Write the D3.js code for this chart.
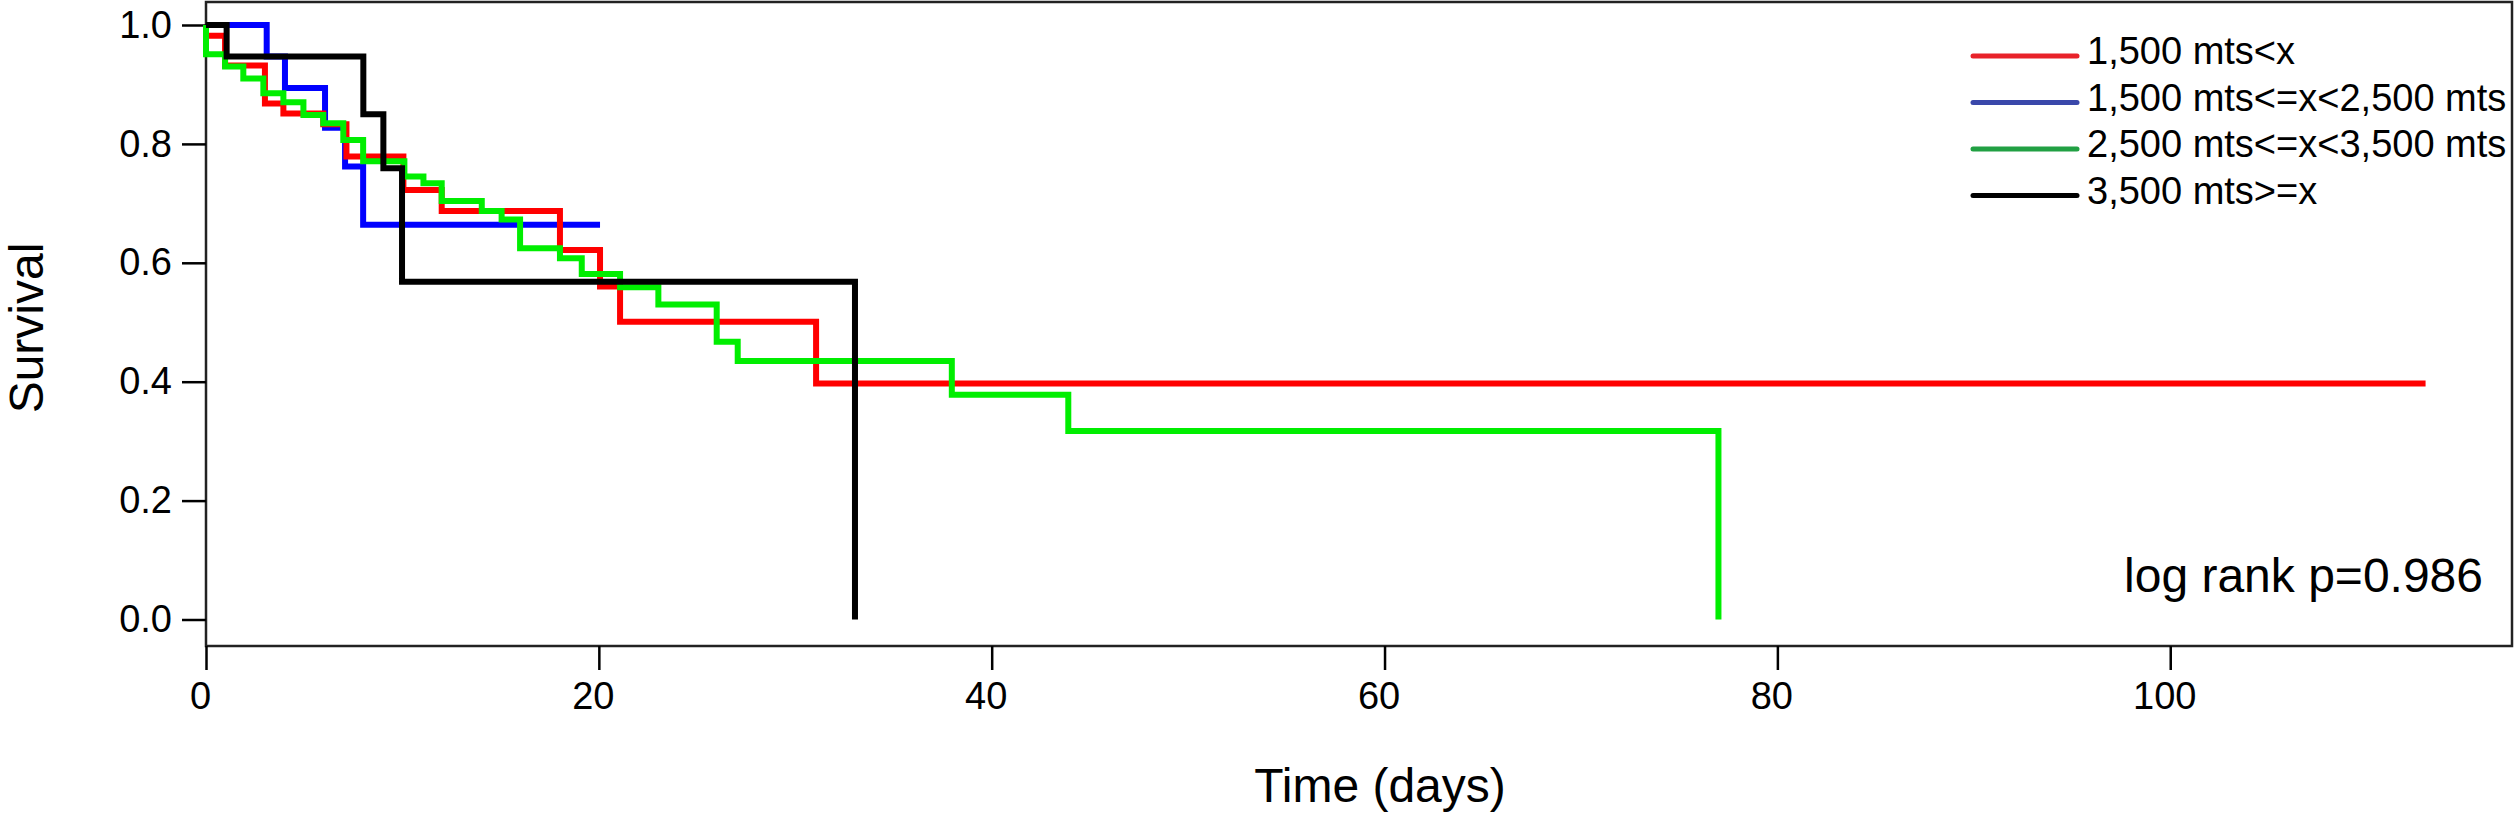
<!DOCTYPE html>
<html>
<head>
<meta charset="utf-8">
<script src="https://cdn.jsdelivr.net/npm/d3@7"></script>
<style>
  html, body { margin: 0; padding: 0; background: #fff; }
  svg { display: block; }
  text { font-family: "Liberation Sans", Arial, Helvetica, sans-serif; fill: #000; }
</style>
</head>
<body>
<svg id="chart" width="2514" height="824"></svg>
<script>
// ---- data ----
const seriesNames = ["1,500 mts<x", "1,500 mts<=x<2,500 mts", "2,500 mts<=x<3,500 mts", "3,500 mts>=x"];

const redTimes = [0, 0, 0.97, 3.0, 3.94, 5.97, 7.15, 10.05, 12.0, 18.02, 20.06, 21.08, 31.06, 113];
const redSurv  = [1.0, 0.982, 0.932, 0.868, 0.851, 0.833, 0.779, 0.7225, 0.687, 0.6215, 0.56, 0.501, 0.397, 0.397];

const blueTimes = [0, 3.09, 4.02, 6.06, 7.08, 8.0, 20.06];
const blueSurv  = [1.0, 0.947, 0.894, 0.827, 0.762, 0.664, 0.664];

const greenTimes = [0, 0, 0.97, 1.9, 2.92, 3.94, 4.96, 5.97, 6.99, 8.0, 10.1, 11.07, 12.0, 14.04, 15.05, 15.99, 18.02, 19.13, 21.08, 23.03, 26.0, 27.07, 37.97, 43.9, 77.0];
const greenSurv  = [1.0, 0.951, 0.930, 0.910, 0.885, 0.870, 0.8486, 0.8346, 0.8066, 0.771, 0.745, 0.734, 0.704, 0.687, 0.673, 0.6244, 0.6075, 0.581, 0.559, 0.530, 0.467, 0.435, 0.378, 0.317, 0.0];

const blackTimes = [0, 1.05, 8.01, 9.03, 9.98, 33.04];
const blackSurv  = [1.0, 0.947, 0.85, 0.759, 0.568, 0.0];

const xTicks = [0, 20, 40, 60, 80, 100];
const yTicks = [0.0, 0.2, 0.4, 0.6, 0.8, 1.0];
const xTitle = "Time (days)";
const yTitle = "Survival";
const pText = "log rank p=0.986";

// ---- styles ----
const curveColors  = ["#ff0000", "#0000ff", "#00ee00", "#000000"];
const legendColors = ["#e8222a", "#3a48aa", "#21a043", "#000000"];

const svg = d3.select("#chart");

const frame = {left: 206, top: 2, right: 2512, bottom: 646};
const x = d3.scaleLinear().domain([0, 117.4]).range([frame.left, frame.right]);
const y = d3.scaleLinear().domain([0, 1]).range([619.5, 25]);

// frame
svg.append("rect")
  .attr("x", frame.left).attr("y", frame.top)
  .attr("width", frame.right - frame.left).attr("height", frame.bottom - frame.top)
  .attr("fill", "none").attr("stroke", "#222").attr("stroke-width", 2.5);

// axes
const gx = svg.append("g").attr("transform", `translate(0,${frame.bottom})`)
  .call(d3.axisBottom(x).tickValues(xTicks).tickSize(24).tickPadding(12).tickFormat(d3.format("d")));
const gy = svg.append("g").attr("transform", `translate(${frame.left},0)`)
  .call(d3.axisLeft(y).tickValues(yTicks).tickSize(24).tickPadding(10).tickFormat(d3.format(".1f")));
[gx, gy].forEach(g => {
  g.select(".domain").remove();
  g.selectAll(".tick line").attr("stroke", "#000").attr("stroke-width", 2.5);
  g.selectAll(".tick text").attr("font-size", 38).attr("font-family", "Liberation Sans, Arial, sans-serif").attr("fill", "#000");
});
gx.selectAll(".tick text").attr("dx", -6);

// curves
const seriesData = [
  {times: blueTimes, surv: blueSurv, idx: 1},
  {times: redTimes, surv: redSurv, idx: 0},
  {times: greenTimes, surv: greenSurv, idx: 2},
  {times: blackTimes, surv: blackSurv, idx: 3}
];
const line = d3.line().x(d => x(d[0])).y(d => y(d[1])).curve(d3.curveStepAfter);
seriesData.forEach(s => {
  const pts = s.times.map((t, i) => [t, s.surv[i]]);
  svg.append("path")
    .attr("d", line(pts))
    .attr("fill", "none")
    .attr("stroke", curveColors[s.idx])
    .attr("stroke-width", 6)
    .attr("stroke-linejoin", "miter")
    .attr("stroke-linecap", "butt");
});

// legend
const lg = svg.append("g");
seriesNames.forEach((name, i) => {
  const by = 64 + i * 46.5;
  lg.append("line")
    .attr("x1", 1973).attr("x2", 2077)
    .attr("y1", by - 8).attr("y2", by - 8)
    .attr("stroke", legendColors[i]).attr("stroke-width", 5).attr("stroke-linecap", "round");
  lg.append("text")
    .attr("x", 2087).attr("y", by)
    .attr("font-size", 38)
    .text(name);
});

// p-value
svg.append("text")
  .attr("x", 2483).attr("y", 592)
  .attr("text-anchor", "end")
  .attr("font-size", 48)
  .text(pText);

// axis titles
svg.append("text")
  .attr("x", 1380).attr("y", 802)
  .attr("text-anchor", "middle")
  .attr("font-size", 48)
  .text(xTitle);
svg.append("text")
  .attr("transform", "translate(43,328) rotate(-90)")
  .attr("text-anchor", "middle")
  .attr("font-size", 48)
  .text(yTitle);
</script>
</body>
</html>
